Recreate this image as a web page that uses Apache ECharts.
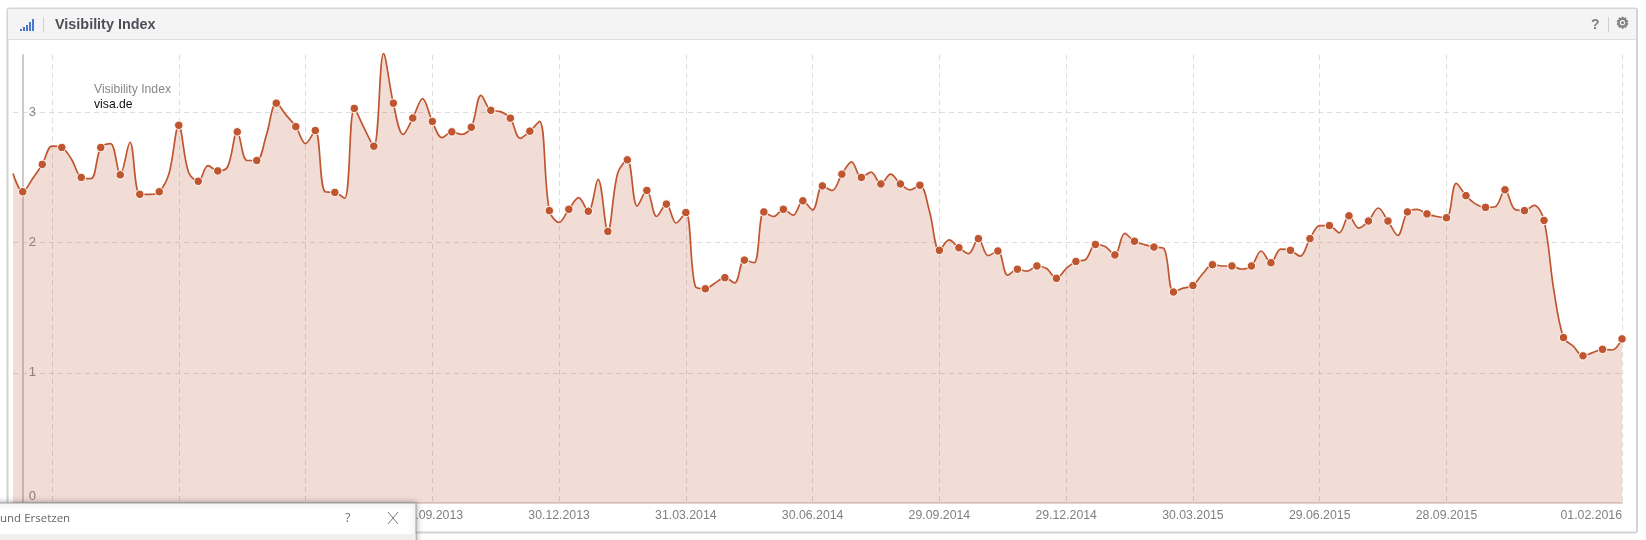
<!DOCTYPE html>
<html><head><meta charset="utf-8">
<style>html,body{margin:0;padding:0;background:#fff}#c{width:1646px;height:540px}</style>
<script src="https://cdn.jsdelivr.net/npm/echarts@6/dist/echarts.min.js"></script>
</head><body><div id="c"></div>
<script>
const categories = [
"03.12.2012","10.12.2012","17.12.2012","24.12.2012","31.12.2012",
"07.01.2013","14.01.2013","21.01.2013","28.01.2013","04.02.2013","11.02.2013","18.02.2013","25.02.2013","04.03.2013","11.03.2013","18.03.2013","25.03.2013","01.04.2013","08.04.2013","15.04.2013","22.04.2013","29.04.2013","06.05.2013","13.05.2013","20.05.2013","27.05.2013","03.06.2013","10.06.2013","17.06.2013","24.06.2013","01.07.2013","08.07.2013","15.07.2013","22.07.2013","29.07.2013","05.08.2013","12.08.2013","19.08.2013","26.08.2013","02.09.2013","09.09.2013","16.09.2013","23.09.2013","30.09.2013","07.10.2013","14.10.2013","21.10.2013","28.10.2013","04.11.2013","11.11.2013","18.11.2013","25.11.2013","02.12.2013","09.12.2013","16.12.2013","23.12.2013","30.12.2013",
"06.01.2014","13.01.2014","20.01.2014","27.01.2014","03.02.2014","10.02.2014","17.02.2014","24.02.2014","03.03.2014","10.03.2014","17.03.2014","24.03.2014","31.03.2014","07.04.2014","14.04.2014","21.04.2014","28.04.2014","05.05.2014","12.05.2014","19.05.2014","26.05.2014","02.06.2014","09.06.2014","16.06.2014","23.06.2014","30.06.2014","07.07.2014","14.07.2014","21.07.2014","28.07.2014","04.08.2014","11.08.2014","18.08.2014","25.08.2014","01.09.2014","08.09.2014","15.09.2014","22.09.2014","29.09.2014","06.10.2014","13.10.2014","20.10.2014","27.10.2014","03.11.2014","10.11.2014","17.11.2014","24.11.2014","01.12.2014","08.12.2014","15.12.2014","22.12.2014","29.12.2014",
"05.01.2015","12.01.2015","19.01.2015","26.01.2015","02.02.2015","09.02.2015","16.02.2015","23.02.2015","02.03.2015","09.03.2015","16.03.2015","23.03.2015","30.03.2015","06.04.2015","13.04.2015","20.04.2015","27.04.2015","04.05.2015","11.05.2015","18.05.2015","25.05.2015","01.06.2015","08.06.2015","15.06.2015","22.06.2015","29.06.2015","06.07.2015","13.07.2015","20.07.2015","27.07.2015","03.08.2015","10.08.2015","17.08.2015","24.08.2015","31.08.2015","07.09.2015","14.09.2015","21.09.2015","28.09.2015","05.10.2015","12.10.2015","19.10.2015","26.10.2015","02.11.2015","09.11.2015","16.11.2015","23.11.2015","30.11.2015","07.12.2015","14.12.2015","21.12.2015","28.12.2015",
"04.01.2016","11.01.2016","18.01.2016","25.01.2016","01.02.2016"];
const visibilityIndex = [
2.53,2.39,2.49,2.60,2.74,2.73,2.64,2.50,2.49,2.73,2.76,2.52,2.77,2.37,2.37,2.39,2.53,2.90,2.54,2.47,
2.59,2.55,2.58,2.85,2.63,2.63,2.83,3.07,2.98,2.89,2.76,2.86,2.39,2.385,2.34,3.03,2.88,2.74,3.45,3.07,
2.83,2.956,3.105,2.93,2.805,2.85,2.83,2.885,3.13,3.015,3.005,2.955,2.80,2.855,2.93,2.245,2.155,2.255,2.345,2.24,
2.485,2.085,2.53,2.635,2.28,2.40,2.20,2.295,2.15,2.23,1.66,1.645,1.69,1.73,1.69,1.865,1.845,2.235,2.20,2.255,
2.21,2.32,2.25,2.435,2.40,2.525,2.62,2.50,2.54,2.45,2.525,2.45,2.405,2.44,2.235,1.94,2.02,1.96,1.915,2.03,
1.90,1.935,1.75,1.795,1.78,1.82,1.80,1.725,1.80,1.855,1.87,1.985,1.97,1.905,2.07,2.01,1.985,1.965,1.955,1.62,
1.65,1.67,1.76,1.83,1.82,1.82,1.795,1.82,1.935,1.845,1.95,1.94,1.895,2.03,2.13,2.13,2.075,2.205,2.11,2.165,
2.265,2.165,2.055,2.235,2.255,2.22,2.20,2.19,2.455,2.36,2.295,2.27,2.275,2.405,2.255,2.245,2.285,2.17,1.64,1.27,
1.205,1.13,1.155,1.18,1.175,1.26];
const tickLabels = ["31.12.2012","01.04.2013","01.07.2013","30.09.2013","30.12.2013","31.03.2014","30.06.2014","29.09.2014","29.12.2014","30.03.2015","29.06.2015","28.09.2015","01.02.2016"];
const yTicks = [0,1,2,3];
const seriesName = "Visibility Index";
const domainName = "visa.de";
const signalBars = [2,4,6,9,12];

const showTick = (i, name) => tickLabels.includes(name);
const lineColor = "#bf5630";
const chart = echarts.init(document.getElementById("c"), null, {renderer:"canvas"});
const Z = 100;
const sans = '"Liberation Sans", Arial, sans-serif';
chart.setOption({
  animation:false,
  backgroundColor:"#fff",
  grid:{left:13,right:24,top:55,bottom:37,containLabel:false,outerBoundsMode:"none"},
  xAxis:{
    type:"category",boundaryGap:false,data:categories,
    axisLine:{show:true,lineStyle:{color:"#e2d4cf",width:2}},
    axisTick:{show:false},
    axisLabel:{interval:showTick,margin:7,color:"#808080",fontSize:12.3,fontFamily:sans,alignMaxLabel:"right",hideOverlap:false},
    splitLine:{show:true,interval:showTick,lineStyle:{color:"#ddd",type:[5,4],width:1}}
  },
  yAxis:{
    type:"value",min:0,max:3.44,interval:1,position:"left",offset:-9.7,
    axisLine:{show:true,lineStyle:{color:"#ccc",width:2}},
    axisTick:{show:false},
    axisLabel:{inside:true,margin:6,color:"#888",fontSize:13,fontFamily:sans,showMaxLabel:false,
      verticalAlignMinLabel:"bottom",
      formatter:v=>yTicks.includes(v)?String(v):""},
    splitLine:{show:true,showMinLine:false,showMaxLine:false,lineStyle:{color:"#ddd",type:[5,4],width:1}}
  },
  series:[{
    name:seriesName,type:"line",data:visibilityIndex,smooth:0.35,clip:false,
    showSymbol:true,showAllSymbol:true,symbol:"circle",
    symbolSize:(v,p)=>p.dataIndex%2===1?8.5:0,
    itemStyle:{color:lineColor,borderColor:"#fff",borderWidth:1},
    lineStyle:{color:lineColor,width:1.7},
    areaStyle:{color:lineColor,opacity:0.2}
  }],
  graphic:{elements:[
    {type:"rect",z:-1,shape:{x:7.5,y:8.5,width:1629.5,height:524,r:2},style:{fill:"none",stroke:"#d4d4d4",lineWidth:2}},
    {type:"rect",z:1,shape:{x:8,y:9,width:1628,height:30},style:{fill:"#f4f4f4"}},
    {type:"rect",z:1,shape:{x:8,y:39,width:1628,height:1},style:{fill:"#dedede"}},
    ...signalBars.map((h,i)=>({type:"rect",z:2,shape:{x:20+i*3,y:31-h,width:2,height:h},style:{fill:"#4a78d0"}})),
    {type:"rect",z:2,shape:{x:43,y:17,width:1,height:15},style:{fill:"#d0d0d0"}},
    {type:"text",z:2,x:55,y:25,style:{text:seriesName,font:'bold 14.4px '+sans,fill:"#4e4e58",verticalAlign:"middle"}},
    {type:"text",z:2,x:1591,y:25,style:{text:"?",font:'bold 14px '+sans,fill:"#808080",verticalAlign:"middle"}},
    {type:"rect",z:2,shape:{x:1608,y:17,width:1,height:15},style:{fill:"#d0d0d0"}},
    {type:"text",z:2,x:1616,y:24.5,style:{text:"\u2699",font:'bold 15px "DejaVu Sans", sans-serif',fill:"#808080",stroke:"#808080",lineWidth:0.8,verticalAlign:"middle"}},
    {type:"text",z:20,x:94,y:90,style:{text:seriesName,font:'12.2px '+sans,fill:"#888",verticalAlign:"middle"}},
    {type:"text",z:20,x:94,y:105,style:{text:domainName,font:'12.2px '+sans,fill:"#111",verticalAlign:"middle"}},
    {type:"rect",z:Z,shape:{x:-20,y:503,width:436,height:60},style:{fill:"#fff",stroke:"#a0a0a0",lineWidth:1,shadowBlur:6,shadowColor:"rgba(0,0,0,0.35)"}},
    {type:"rect",z:Z+1,shape:{x:0,y:534,width:415.5,height:6},style:{fill:"#f0f0f0"}},
    {type:"text",z:Z+1,x:0,y:519,style:{text:"und Ersetzen",font:'11.5px "Open Sans", sans-serif',fill:"#666",verticalAlign:"middle"}},
    {type:"text",z:Z+1,x:345,y:518,style:{text:"?",font:'13px "Open Sans", sans-serif',fill:"#777",verticalAlign:"middle"}},
    {type:"line",z:Z+1,shape:{x1:388,y1:512,x2:398,y2:524},style:{stroke:"#777",lineWidth:1}},
    {type:"line",z:Z+1,shape:{x1:398,y1:512,x2:388,y2:524},style:{stroke:"#777",lineWidth:1}}
  ]}
});
</script></body></html>
